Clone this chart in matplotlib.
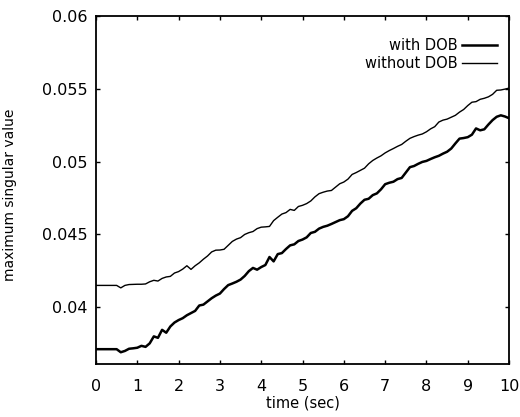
#!/usr/bin/env python
"""Plot maximum singular value over time, with and without DOB."""

from __future__ import annotations

import matplotlib

matplotlib.use("Agg")
import matplotlib.pyplot as plt
import numpy as np


TIME = np.round(np.arange(0, 101) * 0.1, 1)

WITH_DOB = [
    0.03712, 0.03712, 0.03712, 0.03712, 0.03712, 0.03712, 0.03691, 0.03700, 0.03715, 0.03718,
    0.03722, 0.03735, 0.03728, 0.03752, 0.03800, 0.03790, 0.03845, 0.03825, 0.03868, 0.03895,
    0.03912, 0.03925, 0.03945, 0.03960, 0.03975, 0.04012, 0.04018, 0.04040, 0.04062, 0.04080,
    0.04094, 0.04125, 0.04152, 0.04163, 0.04175, 0.04190, 0.04215, 0.04248, 0.04270, 0.04258,
    0.04276, 0.04290, 0.04345, 0.04315, 0.04365, 0.04372, 0.04400, 0.04425, 0.04432, 0.04455,
    0.04465, 0.04480, 0.04510, 0.04518, 0.04540, 0.04552, 0.04560, 0.04572, 0.04585, 0.04598,
    0.04605, 0.04625, 0.04662, 0.04680, 0.04712, 0.04738, 0.04745, 0.04770, 0.04782, 0.04810,
    0.04845, 0.04855, 0.04862, 0.04880, 0.04888, 0.04925, 0.04962, 0.04970, 0.04985, 0.04998,
    0.05005, 0.05018, 0.05030, 0.05040, 0.05055, 0.05068, 0.05090, 0.05125, 0.05158, 0.05162,
    0.05168, 0.05185, 0.05228, 0.05215, 0.05222, 0.05255, 0.05285, 0.05308, 0.05318, 0.05310,
    0.05298,
]

WITHOUT_DOB = [
    0.04150, 0.04150, 0.04150, 0.04150, 0.04150, 0.04150, 0.04133, 0.04150, 0.04156, 0.04157,
    0.04158, 0.04158, 0.04160, 0.04175, 0.04185, 0.04180, 0.04198, 0.04208, 0.04212, 0.04235,
    0.04245, 0.04262, 0.04285, 0.04260, 0.04285, 0.04305, 0.04330, 0.04352, 0.04380, 0.04392,
    0.04393, 0.04398, 0.04425, 0.04452, 0.04468, 0.04478, 0.04500, 0.04512, 0.04520, 0.04540,
    0.04550, 0.04552, 0.04555, 0.04595, 0.04618, 0.04640, 0.04650, 0.04672, 0.04665, 0.04692,
    0.04700, 0.04712, 0.04730, 0.04758, 0.04780, 0.04790, 0.04798, 0.04802, 0.04825, 0.04848,
    0.04860, 0.04880, 0.04912, 0.04925, 0.04940, 0.04955, 0.04985, 0.05008, 0.05025, 0.05040,
    0.05060, 0.05076, 0.05090, 0.05105, 0.05118, 0.05140, 0.05160, 0.05172, 0.05182, 0.05190,
    0.05205, 0.05225, 0.05240, 0.05272, 0.05285, 0.05292, 0.05305, 0.05318, 0.05340, 0.05358,
    0.05385, 0.05408, 0.05412, 0.05428, 0.05435, 0.05445, 0.05462, 0.05490, 0.05492, 0.05498,
    0.05505,
]

X_TICKS = list(range(0, 11))
Y_TICKS = [0.04, 0.045, 0.05, 0.055, 0.06]
Y_TICK_LABELS = ["0.04", "0.045", "0.05", "0.055", "0.06"]


def main() -> int:
    plt.rcParams["font.family"] = ["DejaVu Sans"]
    fig = plt.figure(figsize=(5.2, 4.17), dpi=100)
    ax = fig.add_axes((0.1846, 0.127, 0.7944, 0.8346))

    ax.plot(TIME, WITH_DOB, color="black", linewidth=1.8, label="with DOB")
    ax.plot(TIME, WITHOUT_DOB, color="black", linewidth=1.0, label="without DOB")

    ax.set_xlim(0, 10)
    ax.set_ylim(0.0361, 0.06)
    ax.set_xticks(X_TICKS)
    ax.set_xticklabels([str(t) for t in X_TICKS])
    ax.set_yticks(Y_TICKS)
    ax.set_yticklabels(Y_TICK_LABELS)
    ax.tick_params(
        direction="in", length=3, width=1, labelsize=11.5,
        top=True, right=True,
    )
    ax.tick_params(axis="x", pad=11)
    ax.tick_params(axis="y", pad=6)
    for spine in ax.spines.values():
        spine.set_linewidth(1.3)

    ax.set_xlabel("time (sec)", fontsize=10.5)
    ax.xaxis.set_label_coords(0.5, -0.089)
    ax.set_ylabel("maximum singular value", fontsize=10)
    ax.yaxis.set_label_coords(-0.191, 0.486)

    ax.legend(
        loc="upper right", frameon=False, markerfirst=False, fontsize=10.5,
        handlelength=2.4, handletextpad=0.3, labelspacing=0.2,
        borderaxespad=0, borderpad=0, bbox_to_anchor=(0.971, 0.936),
    )

    fig.savefig("out.png", dpi=100)
    plt.close(fig)
    return 0


if __name__ == "__main__":
    raise SystemExit(main())
